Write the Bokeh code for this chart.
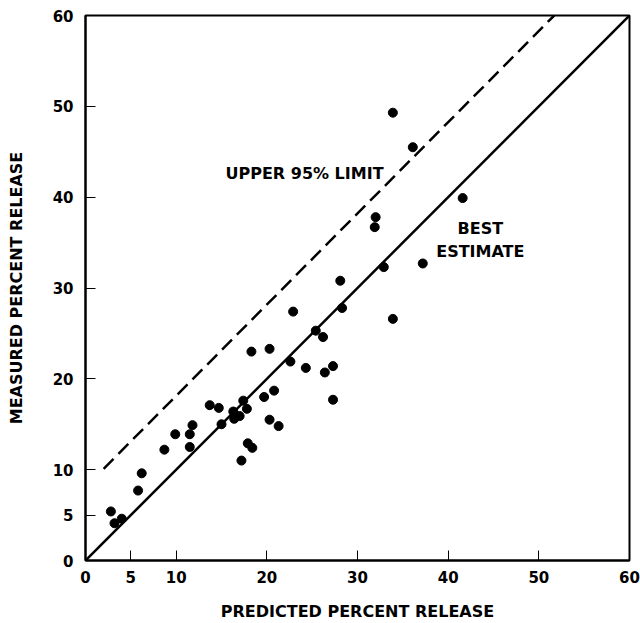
from bokeh.plotting import figure
from bokeh.models import Range1d, FixedTicker, ColumnDataSource
from bokeh.core.properties import value
from bokeh.embed import file_html
from bokeh.resources import INLINE

# Data
predicted = [33.9, 36.1, 41.6, 32.0, 31.9, 37.2, 32.9, 28.1, 28.3, 22.9, 33.9,
             25.4, 26.2, 20.3, 18.3, 22.6, 24.3, 27.3, 26.4, 20.8, 19.7, 27.3,
             13.7, 14.7, 17.4, 17.8, 16.3, 17.0, 16.4, 11.8, 11.5, 15.0, 20.3,
             21.3, 9.9, 11.5, 8.7, 17.9, 18.4, 17.2, 6.2, 5.8, 2.8, 3.2, 4.0]
measured = [49.3, 45.5, 39.9, 37.8, 36.7, 32.7, 32.3, 30.8, 27.8, 27.4, 26.6,
            25.3, 24.6, 23.3, 23.0, 21.9, 21.2, 21.4, 20.7, 18.7, 18.0, 17.7,
            17.1, 16.8, 17.6, 16.7, 16.4, 15.9, 15.6, 14.9, 13.9, 15.0, 15.5,
            14.8, 13.9, 12.5, 12.2, 12.9, 12.4, 11.0, 9.6, 7.7, 5.4, 4.1, 4.6]

best_x = [0, 60]
best_y = [0, 60]
upper_x = [2.0, 51.7]
upper_y = [10.1, 60.0]

tick_values = [0, 5, 10, 20, 30, 40, 50, 60]

label_upper = "UPPER 95% LIMIT"
label_best = ["BEST", "ESTIMATE"]
x_title = "PREDICTED PERCENT RELEASE"
y_title = "MEASURED PERCENT RELEASE"

FONT = "DejaVu Sans"

p = figure(width=640, height=623, output_backend="svg", toolbar_location=None,
           x_range=Range1d(0, 60), y_range=Range1d(0, 60),
           min_border_left=85, min_border_right=11, min_border_top=15,
           min_border_bottom=62)
p.grid.visible = False
p.outline_line_color = "black"
p.outline_line_width = 2
p.background_fill_color = "white"
p.border_fill_color = "white"

for ax in (p.xaxis[0], p.yaxis[0]):
    ax.ticker = FixedTicker(ticks=tick_values)
    ax.minor_tick_line_color = None
    ax.major_tick_in = 10
    ax.major_tick_out = 0
    ax.major_tick_line_color = "black"
    ax.major_tick_line_width = 1
    ax.axis_line_width = 2
    ax.axis_line_color = "black"
    ax.major_label_text_font = FONT
    ax.major_label_text_font_style = "bold"
    ax.major_label_text_font_size = "15px"
    ax.major_label_text_color = "black"
    ax.axis_label_text_font = FONT
    ax.axis_label_text_font_style = "bold"
    ax.axis_label_text_font_size = "16px"
    ax.axis_label_text_color = "black"

p.xaxis.axis_label = x_title
p.yaxis.axis_label = y_title
p.xaxis.major_label_standoff = 10
p.xaxis.axis_label_standoff = 16
p.yaxis.major_label_standoff = 12
p.yaxis.axis_label_standoff = 24

p.line(best_x, best_y, line_color="black", line_width=2.5)
p.line(upper_x, upper_y, line_color="black", line_width=2.5, line_dash="14 7")

src = ColumnDataSource(dict(x=predicted, y=measured))
p.scatter("x", "y", source=src, size=9, fill_color="black", line_color="black")

p.text(x=[15.44], y=[42.6], text=[label_upper], text_font=value(FONT),
       text_font_style="bold", text_font_size="16px", text_color="black",
       text_align="left", text_baseline="alphabetic")
p.text(x=[43.55, 43.55], y=[36.6, 34.07], text=label_best, text_font=value(FONT),
       text_font_style="bold", text_font_size="16px", text_color="black",
       text_align="center", text_baseline="alphabetic")

open("out.html", "w").write(file_html(p, INLINE))
